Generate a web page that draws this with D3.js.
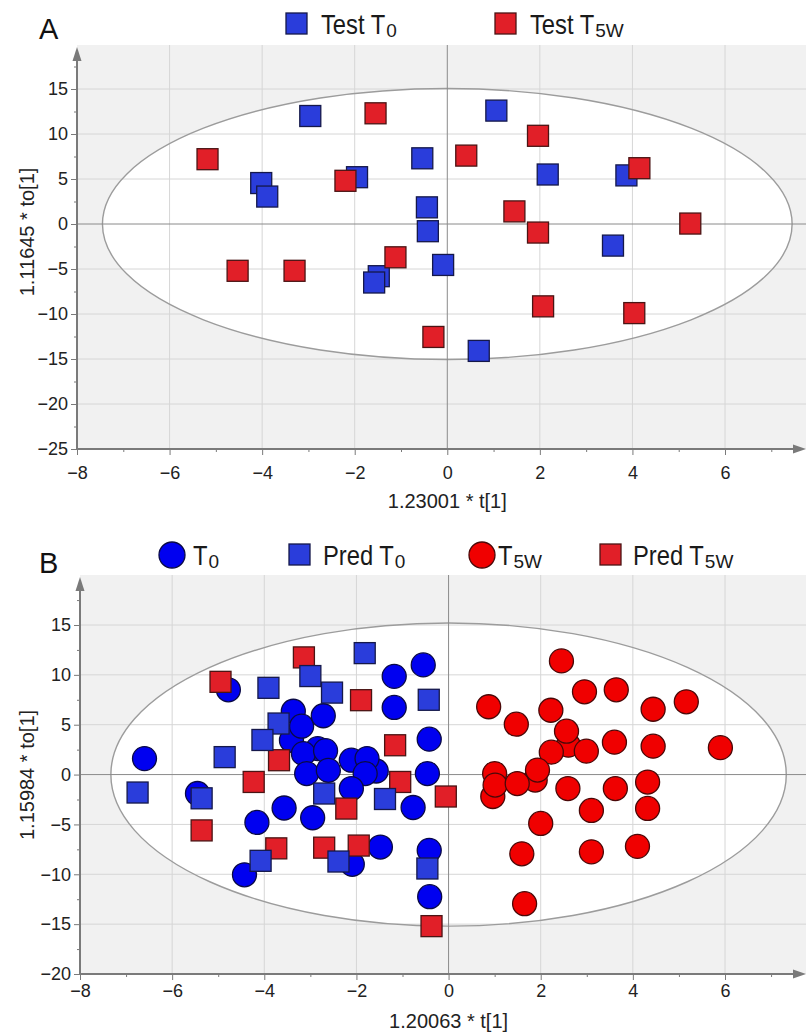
<!DOCTYPE html>
<html>
<head>
<meta charset="utf-8">
<script src="https://cdn.jsdelivr.net/npm/d3@7"></script>
<style>
  body { margin: 0; background: #fff; }
  svg { display: block; font-family: "Liberation Sans", Arial, sans-serif; }
</style>
</head>
<body>
<svg id="chart" width="806" height="1034"></svg>
<script>
// ---- panel A: test set scores ----
const testT0 = [[-2.96, 12.0], [-4.02, 4.55], [-3.89, 3.05], [-1.95, 5.2], [-1.48, -5.8], [-1.58, -6.5],
  [1.06, 12.6], [-0.54, 7.3], [2.17, 5.5], [3.87, 5.4], [-0.44, 1.85], [-0.42, -0.8], [3.58, -2.4],
  [-0.09, -4.55], [0.68, -14.1]];
const testT5W = [[-1.55, 12.3], [-5.18, 7.2], [-2.2, 4.8], [-4.53, -5.2], [-3.3, -5.2], [-1.12, -3.7],
  [1.96, 9.8], [0.41, 7.6], [4.15, 6.2], [1.45, 1.4], [1.96, -0.95], [5.25, 0.05], [2.07, -9.15],
  [4.04, -9.9], [-0.3, -12.55]];

// ---- panel B: model scores + predictions ----
const trainT0 = [[-3.41, 3.44], [-2.84, 2.6], [-1.57, 0.36], [-6.6, 1.6], [-4.78, 8.5], [-5.45, -1.9],
  [-3.37, 6.35], [-3.19, 4.85], [-2.72, 5.9], [-3.15, 2.1], [-2.67, 2.4], [-3.08, 0.1], [-2.61, 0.43],
  [-2.11, 1.44], [-1.77, 1.6], [-1.81, 0.1], [-2.11, -1.4], [-3.57, -3.35], [-4.16, -4.8], [-2.95, -4.33],
  [-1.18, 9.85], [-1.18, 6.73], [-0.55, 11.0], [-0.42, 3.55], [-0.46, 0.1], [-0.77, -3.3], [-0.42, -7.6],
  [-1.48, -7.27], [-2.09, -9.0], [-4.43, -10.05], [-0.41, -12.25]];
const trainT5W = [[2.6, 2.95], [1.88, -0.55], [0.96, -2.2], [2.45, 11.4], [2.95, 8.3], [3.64, 8.5],
  [5.16, 7.3], [4.44, 6.55], [0.87, 6.8], [2.22, 6.45], [1.47, 5.05], [2.56, 4.35], [2.99, 2.35],
  [2.23, 2.25], [3.6, 3.25], [4.44, 2.85], [5.9, 2.7], [1.0, 0.1], [1.01, -1.05], [1.49, -0.9],
  [1.93, 0.45], [2.59, -1.4], [3.62, -1.4], [4.32, -0.75], [4.32, -3.4], [3.1, -3.6], [2.0, -4.9],
  [1.59, -7.95], [3.1, -7.75], [4.1, -7.2], [1.65, -12.95]];
const predT5W = [[-4.95, 9.3], [-3.14, 11.75], [-1.9, 7.46], [-3.68, 1.44], [-4.23, -0.74], [-1.16, 2.94],
  [-1.05, -0.74], [-2.22, -3.41], [-5.36, -5.6], [-3.74, -7.4], [-2.7, -7.33], [-1.95, -7.12],
  [-0.06, -2.2], [-0.37, -15.2]];
const predT0 = [[-6.75, -1.8], [-5.36, -2.38], [-4.86, 1.75], [-3.91, 8.7], [-3.69, 5.12], [-4.04, 3.47],
  [-3.0, 9.88], [-2.53, 8.22], [-1.82, 12.18], [-2.7, -1.9], [-1.38, -2.45], [-4.08, -8.65],
  [-2.39, -8.72], [-0.43, 7.5], [-0.46, -9.42]];

// ticks
const xTicks = [-8, -6, -4, -2, 0, 2, 4, 6];
const xMinor = [-7, -5, -3, -1, 1, 3, 5, 7];
const yTicksA = [-25, -20, -15, -10, -5, 0, 5, 10, 15];
const yMinorA = [-22.5, -17.5, -12.5, -7.5, -2.5, 2.5, 7.5, 12.5, 17.5];
const yTicksB = [-20, -15, -10, -5, 0, 5, 10, 15];
const yMinorB = [-17.5, -12.5, -7.5, -2.5, 2.5, 7.5, 12.5, 17.5];

// Hotelling T2 ellipse half axes (x, y)
const ellipseA = [7.45, 15.05];
const ellipseB = [7.33, 15.2];

const col = {
  blueCircle: "#0000f0", blueCircleEdge: "#0a0a45",
  blueSquare: "#2a3ddb", blueSquareEdge: "#15184a",
  redCircle: "#f00000", redCircleEdge: "#4a0808",
  redSquare: "#e11f28", redSquareEdge: "#4a1414",
  axis: "#7a7a7a", grid: "#d6d6d6", zero: "#8a8a8a", ell: "#9c9c9c", bg: "#f1f1f1"
};

const svg = d3.select("#chart");

const drawPanel = function (opt) {
  const x = d3.scaleLinear().domain([-8, 6]).range(opt.xRange);
  const y = d3.scaleLinear().domain(opt.yDomain).range(opt.yRange);
  const g = svg.append("g");
  const left = x(-8), bottom = y(opt.yDomain[0]);

  // grey plot area + white ellipse
  g.append("rect")
    .attr("x", left).attr("y", opt.top)
    .attr("width", 806 - left).attr("height", bottom - opt.top)
    .attr("fill", col.bg);
  const ell = () => g.append("ellipse")
    .attr("cx", x(0)).attr("cy", y(0))
    .attr("rx", x(opt.ellipse[0]) - x(0)).attr("ry", y(0) - y(opt.ellipse[1]));
  ell().attr("fill", "#fff");

  // grid
  g.selectAll(null).data(xTicks.filter(d => d !== -8 && d !== 0)).join("line")
    .attr("x1", d => x(d)).attr("x2", d => x(d))
    .attr("y1", opt.top).attr("y2", bottom)
    .attr("stroke", col.grid);
  g.selectAll(null).data(opt.yTicks.filter(d => d !== opt.yDomain[0] && d !== 0)).join("line")
    .attr("x1", left).attr("x2", 806)
    .attr("y1", d => y(d)).attr("y2", d => y(d))
    .attr("stroke", col.grid);
  ell().attr("fill", "none").attr("stroke", col.ell).attr("stroke-width", 1.4);
  g.append("line").attr("x1", x(0)).attr("x2", x(0)).attr("y1", opt.top).attr("y2", bottom)
    .attr("stroke", col.zero);
  g.append("line").attr("x1", left).attr("x2", 806).attr("y1", y(0)).attr("y2", y(0))
    .attr("stroke", col.zero);

  // axes
  const styleAxis = function (a) {
    a.select(".domain").remove();
    a.selectAll("line").attr("stroke", col.axis);
    a.selectAll("text").attr("fill", "#222").attr("font-size", 18)
      .attr("font-family", "'Liberation Sans', Arial, sans-serif");
  };
  g.append("g").attr("transform", `translate(0,${bottom})`)
    .call(d3.axisBottom(x).tickValues(xTicks).tickSize(6).tickPadding(opt.xPad))
    .call(styleAxis);
  g.append("g").attr("transform", `translate(0,${bottom})`)
    .call(d3.axisBottom(x).tickValues(xMinor).tickSize(3).tickFormat(""))
    .call(styleAxis);
  g.append("g").attr("transform", `translate(${left},0)`)
    .call(d3.axisLeft(y).tickValues(opt.yTicks).tickSize(6).tickPadding(3))
    .call(styleAxis);
  g.append("g").attr("transform", `translate(${left},0)`)
    .call(d3.axisLeft(y).tickValues(opt.yMinor).tickSize(3).tickFormat(""))
    .call(styleAxis);

  // axis lines with arrow heads
  g.append("line").attr("x1", left).attr("x2", 796).attr("y1", bottom).attr("y2", bottom)
    .attr("stroke", col.axis).attr("stroke-width", 2);
  g.append("path").attr("d", `M806,${bottom} L793,${bottom - 4.5} L793,${bottom + 4.5} Z`).attr("fill", col.axis);
  g.append("line").attr("x1", left).attr("x2", left).attr("y1", bottom).attr("y2", opt.top + 12)
    .attr("stroke", col.axis).attr("stroke-width", 2);
  g.append("path").attr("d", `M${left},${opt.top + 2} L${left - 4.5},${opt.top + 16} L${left + 4.5},${opt.top + 16} Z`)
    .attr("fill", col.axis);

  // titles
  g.append("text").attr("x", x(0)).attr("y", opt.xTitleY).attr("text-anchor", "middle")
    .attr("font-size", 20).attr("fill", "#222").text(opt.xTitle);
  g.append("text").attr("transform", `translate(34,${opt.yTitleY}) rotate(-90)`).attr("text-anchor", "middle")
    .attr("font-size", 20).attr("fill", "#222").text(opt.yTitle);
  g.append("text").attr("x", 39).attr("y", opt.letterY).attr("font-size", 29).attr("fill", "#111").text(opt.letter);

  // marks
  opt.series.forEach(s => {
    if (s.shape === "circle") {
      g.selectAll(null).data(s.data).join("circle")
        .attr("cx", d => x(d[0])).attr("cy", d => y(d[1])).attr("r", 12)
        .attr("fill", s.fill).attr("stroke", s.edge).attr("stroke-width", 1.3);
    } else {
      g.selectAll(null).data(s.data).join("rect")
        .attr("x", d => x(d[0]) - 10.5).attr("y", d => y(d[1]) - 10.5)
        .attr("width", 21).attr("height", 21)
        .attr("fill", s.fill).attr("stroke", s.edge).attr("stroke-width", 1.3);
    }
  });

  // legend
  opt.legend.forEach(l => {
    if (l.shape === "circle") {
      g.append("circle").attr("cx", l.x + 13).attr("cy", opt.legendY - 10).attr("r", 13)
        .attr("fill", l.fill).attr("stroke", l.edge).attr("stroke-width", 1.3);
    } else {
      g.append("rect").attr("x", l.x).attr("y", opt.legendY - 21).attr("width", 21).attr("height", 21)
        .attr("fill", l.fill).attr("stroke", l.edge).attr("stroke-width", 1.3);
    }
    const t = g.append("text")
      .attr("transform", `translate(${l.tx},${opt.legendY}) scale(0.88,1)`)
      .attr("font-size", 27).attr("fill", "#1a1a1a").text(l.main);
    const w = t.node().getComputedTextLength() * 0.88;
    g.append("text").attr("x", l.tx + w + 1).attr("y", opt.legendY + 3)
      .attr("font-size", 19).attr("fill", "#1a1a1a").text(l.sub);
  });
};

drawPanel({
  letter: "A", letterY: 39,
  xRange: [77, 725], yDomain: [-25, 15], yRange: [449, 89], top: 45,
  yTicks: yTicksA, yMinor: yMinorA, ellipse: ellipseA, xPad: 11,
  xTitle: "1.23001 * t[1]", xTitleY: 508,
  yTitle: "1.11645 * to[1]", yTitleY: 232,
  series: [
    { shape: "square", data: testT0, fill: col.blueSquare, edge: col.blueSquareEdge },
    { shape: "square", data: testT5W, fill: col.redSquare, edge: col.redSquareEdge }
  ],
  legendY: 34,
  legend: [
    { shape: "square", x: 286, tx: 321, main: "Test T", sub: "0", fill: col.blueSquare, edge: col.blueSquareEdge },
    { shape: "square", x: 495, tx: 530, main: "Test T", sub: "5W", fill: col.redSquare, edge: col.redSquareEdge }
  ]
});

drawPanel({
  letter: "B", letterY: 573,
  xRange: [80, 725], yDomain: [-20, 15], yRange: [974, 625], top: 575,
  yTicks: yTicksB, yMinor: yMinorB, ellipse: ellipseB, xPad: 4,
  xTitle: "1.20063 * t[1]", xTitleY: 1028,
  yTitle: "1.15984 * to[1]", yTitleY: 775,
  series: [
    { shape: "circle", data: trainT0, fill: col.blueCircle, edge: col.blueCircleEdge },
    { shape: "circle", data: trainT5W, fill: col.redCircle, edge: col.redCircleEdge },
    { shape: "square", data: predT5W, fill: col.redSquare, edge: col.redSquareEdge },
    { shape: "square", data: predT0, fill: col.blueSquare, edge: col.blueSquareEdge }
  ],
  legendY: 565,
  legend: [
    { shape: "circle", x: 159, tx: 193, main: "T", sub: "0", fill: col.blueCircle, edge: col.blueCircleEdge },
    { shape: "square", x: 289, tx: 323, main: "Pred T", sub: "0", fill: col.blueSquare, edge: col.blueSquareEdge },
    { shape: "circle", x: 469, tx: 498, main: "T", sub: "5W", fill: col.redCircle, edge: col.redCircleEdge },
    { shape: "square", x: 600, tx: 633, main: "Pred T", sub: "5W", fill: col.redSquare, edge: col.redSquareEdge }
  ]
});
</script>
</body>
</html>
